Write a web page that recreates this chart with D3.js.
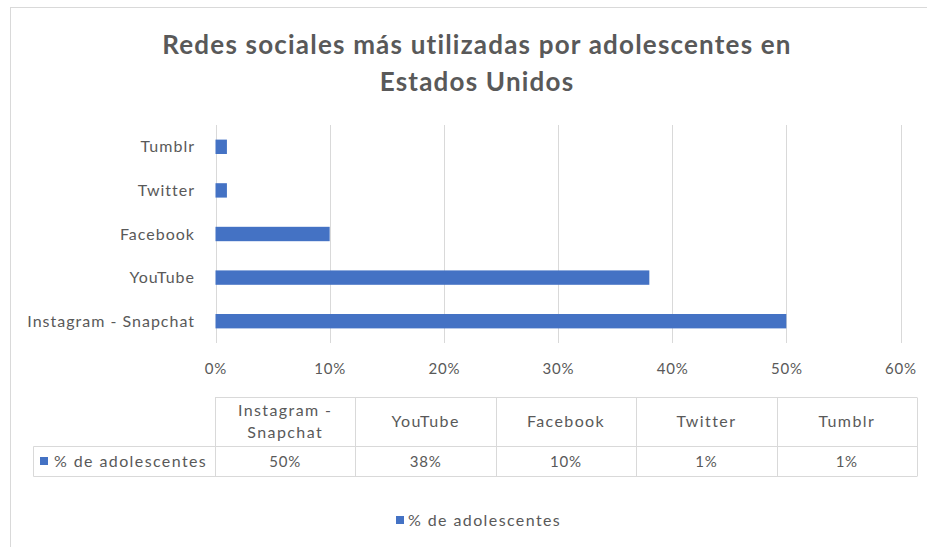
<!DOCTYPE html>
<html>
<head>
<meta charset="utf-8">
<script src="https://cdn.jsdelivr.net/npm/d3@7"></script>
<style>
  body { margin: 0; background: #fff; }
  svg text { font-family: Lato, "Open Sans", sans-serif; fill: #595959; }
</style>
</head>
<body>
<div id="chart"></div>
<script>
// Data
const categories = ['Instagram - Snapchat', 'YouTube', 'Facebook', 'Twitter', 'Tumblr'];
const values = [0.50, 0.38, 0.10, 0.01, 0.01];
const tableLabels = ['Instagram - Snapchat', 'YouTube', 'Facebook', 'Twitter', 'Tumblr'];
const tableValues = ['50%', '38%', '10%', '1%', '1%'];
const seriesName = '% de adolescentes';
const xTicks = [0, 0.1, 0.2, 0.3, 0.4, 0.5, 0.6];
const titleLines = ['Redes sociales más utilizadas por adolescentes en', 'Estados Unidos'];

const width = 927, height = 547;
const blue = '#4472c4', grid = '#d9d9d9', textCol = '#595959';

const svg = d3.select('#chart').append('svg')
    .attr('width', width)
    .attr('height', height);

// chart frame
svg.append('rect')
    .attr('x', 10.5).attr('y', 7.5)
    .attr('width', 1000).attr('height', 1000)
    .attr('fill', '#fff')
    .attr('stroke', '#d9d9d9');

// title
svg.append('g').selectAll('text')
    .data(titleLines)
    .join('text')
    .attr('x', 477)
    .attr('y', (d, i) => 54 + i * 37)
    .attr('text-anchor', 'middle')
    .style('font-size', '26px')
    .style('font-weight', 'bold')
    .style('letter-spacing', '1.2px')
    .text(d => d);

// scales
const x = d3.scaleLinear().domain([0, 0.6]).range([215.5, 900.5]);
const y = d3.scaleBand().domain(categories.slice().reverse()).range([125, 343]).paddingInner(0.67).paddingOuter(0.335);

// gridlines
svg.append('g').selectAll('line')
    .data(xTicks)
    .join('line')
    .attr('x1', d => Math.round(x(d)) + 0.5)
    .attr('x2', d => Math.round(x(d)) + 0.5)
    .attr('y1', 125).attr('y2', 343)
    .attr('stroke', grid);

// bars
svg.append('g').selectAll('rect')
    .data(categories)
    .join('rect')
    .attr('x', x(0))
    .attr('y', d => y(d))
    .attr('width', (d, i) => x(values[i]) - x(0))
    .attr('height', y.bandwidth())
    .attr('fill', blue);

// category labels
svg.append('g').selectAll('text')
    .data(categories)
    .join('text')
    .attr('x', 195)
    .attr('y', d => y(d) + y.bandwidth() / 2)
    .attr('dy', '0.35em')
    .attr('text-anchor', 'end')
    .style('font-size', '16px')
    .style('letter-spacing', '1px')
    .text(d => d);

// x axis labels
const xAxis = d3.axisBottom(x).tickValues(xTicks).tickFormat(d3.format('.0%')).tickSize(0).tickPadding(0);
const gx = svg.append('g').attr('transform', 'translate(0,363)').call(xAxis);
gx.select('.domain').remove();
gx.selectAll('text')
    .style('font-size', '15px').style('font-family', null).style('letter-spacing', '0.8px')
    .attr('fill', textCol).attr('dy', '0.7em');

// data table
const colX = d3.scaleBand().domain(tableLabels).range([215, 917]);
const tTop = 397.5, tMid = 446.5, tBot = 476.5, tLeft = 33.5;
const tbl = svg.append('g').attr('stroke', grid).attr('fill', 'none');
tbl.append('line').attr('x1', colX.range()[0]).attr('x2', 917).attr('y1', tTop).attr('y2', tTop);
tbl.append('line').attr('x1', tLeft).attr('x2', 917).attr('y1', tMid).attr('y2', tMid);
tbl.append('line').attr('x1', tLeft).attr('x2', 917).attr('y1', tBot).attr('y2', tBot);
tbl.append('line').attr('x1', tLeft).attr('x2', tLeft).attr('y1', tMid).attr('y2', tBot);
tbl.selectAll('.col')
    .data(tableLabels.concat(['end']))
    .join('line')
    .attr('class', 'col')
    .attr('x1', (d, i) => Math.round(215 + i * colX.bandwidth()) + 0.5)
    .attr('x2', (d, i) => Math.round(215 + i * colX.bandwidth()) + 0.5)
    .attr('y1', tTop).attr('y2', tBot);

const headers = svg.append('g').selectAll('text')
    .data(tableLabels)
    .join('text')
    .attr('x', d => colX(d) + colX.bandwidth() / 2)
    .attr('text-anchor', 'middle')
    .style('font-size', '16px')
    .style('letter-spacing', '1.4px');
headers.each(function (d) {
    const parts = d === 'Instagram - Snapchat' ? ['Instagram -', 'Snapchat'] : [d];
    const t = d3.select(this);
    const y0 = parts.length === 2 ? 410 : 421;
    parts.forEach((p, i) => {
        t.append('tspan')
            .attr('x', colX(d) + colX.bandwidth() / 2)
            .attr('y', y0 + i * 22)
            .attr('dy', '0.35em')
            .text(p);
    });
});

svg.append('g').selectAll('text')
    .data(tableValues)
    .join('text')
    .attr('x', (d, i) => colX(tableLabels[i]) + colX.bandwidth() / 2)
    .attr('y', 461.5)
    .attr('dy', '0.35em')
    .attr('text-anchor', 'middle')
    .style('font-size', '15px')
    .style('letter-spacing', '0.8px')
    .text(d => d);

// legend key in table
svg.append('rect').attr('x', 40).attr('y', 457).attr('width', 8).attr('height', 8).attr('fill', blue);
svg.append('text').attr('x', 54).attr('y', 461.5).attr('dy', '0.35em')
    .style('font-size', '16px').style('letter-spacing', '1.4px').text(seriesName);

// bottom legend
svg.append('rect').attr('x', 396).attr('y', 516).attr('width', 8).attr('height', 8).attr('fill', blue);
svg.append('text').attr('x', 408).attr('y', 520).attr('dy', '0.35em')
    .style('font-size', '16px').style('letter-spacing', '1.4px').text(seriesName);
</script>
</body>
</html>
